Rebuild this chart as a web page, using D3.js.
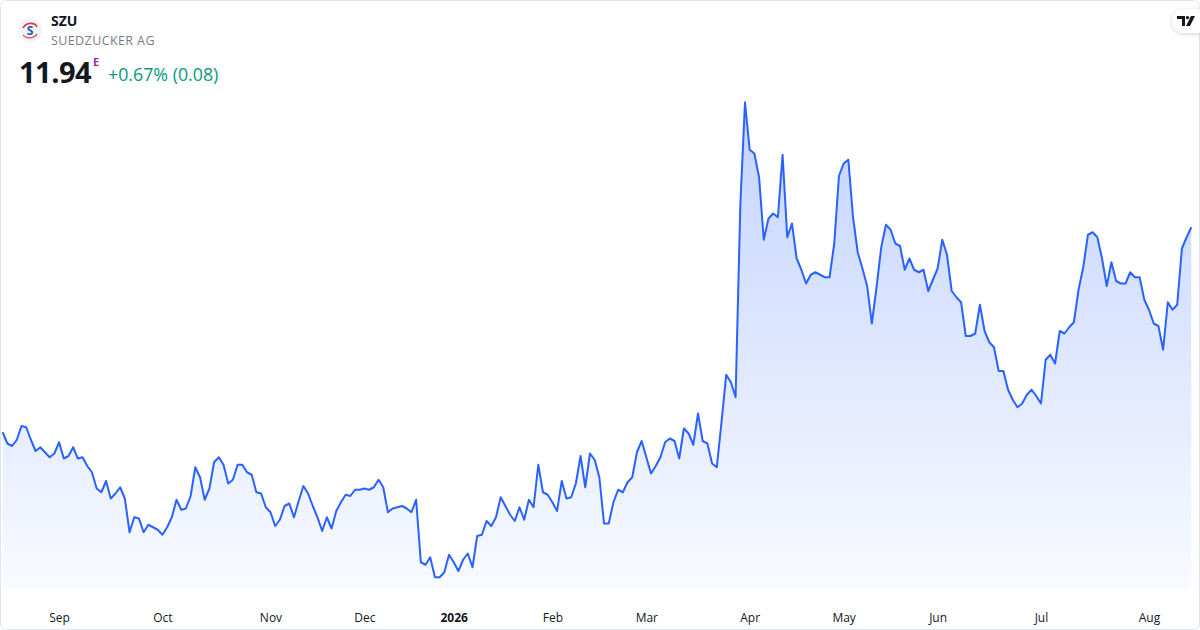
<!DOCTYPE html>
<html>
<head>
<meta charset="utf-8">
<script src="https://cdn.jsdelivr.net/npm/d3@7"></script>
<style>
  html, body { margin: 0; padding: 0; background: #ffffff; }
  body { width: 1200px; height: 630px; overflow: hidden; font-family: "Open Sans", "Noto Sans", sans-serif; }
  .tick text { font-family: "Open Sans", "Noto Sans", sans-serif; }
</style>
</head>
<body>
<div id="chartArea"></div>
<script>
// SZU daily closes, one value per trading day
var prices = [
  10.30, 10.21, 10.19, 10.24, 10.35, 10.34, 10.24, 10.15, 10.18, 10.14,
  10.10, 10.13, 10.22, 10.09, 10.11, 10.18, 10.09, 10.10, 10.03, 9.98,
  9.85, 9.82, 9.91, 9.77, 9.81, 9.86, 9.77, 9.50, 9.62, 9.61,
  9.50, 9.56, 9.54, 9.52, 9.48, 9.54, 9.62, 9.76, 9.68, 9.69,
  9.79, 10.02, 9.94, 9.76, 9.85, 10.06, 10.10, 10.04, 9.89, 9.92,
  10.04, 10.04, 9.98, 9.96, 9.82, 9.81, 9.70, 9.66, 9.55, 9.60,
  9.71, 9.73, 9.62, 9.75, 9.87, 9.81, 9.71, 9.62, 9.51, 9.62,
  9.53, 9.67, 9.74, 9.80, 9.79, 9.84, 9.84, 9.85, 9.84, 9.86,
  9.92, 9.86, 9.66, 9.69, 9.70, 9.71, 9.69, 9.66, 9.76, 9.26,
  9.24, 9.30, 9.14, 9.14, 9.18, 9.32, 9.26, 9.19, 9.28, 9.33,
  9.22, 9.47, 9.48, 9.59, 9.55, 9.62, 9.78, 9.71, 9.64, 9.59,
  9.70, 9.60, 9.76, 9.70, 10.04, 9.82, 9.80, 9.74, 9.67, 9.91,
  9.77, 9.78, 9.89, 10.11, 9.86, 10.13, 10.08, 9.94, 9.57, 9.57,
  9.74, 9.84, 9.82, 9.90, 9.94, 10.14, 10.23, 10.10, 9.97, 10.03,
  10.10, 10.22, 10.25, 10.23, 10.09, 10.33, 10.29, 10.20, 10.45, 10.23,
  10.21, 10.05, 10.02, 10.38, 10.76, 10.70, 10.58, 12.11, 12.94, 12.56,
  12.53, 12.34, 11.84, 12.01, 12.05, 12.02, 12.52, 11.86, 11.97, 11.69,
  11.60, 11.49, 11.56, 11.58, 11.56, 11.54, 11.54, 11.81, 12.35, 12.45,
  12.48, 12.02, 11.74, 11.61, 11.47, 11.17, 11.46, 11.78, 11.96, 11.92,
  11.81, 11.79, 11.60, 11.69, 11.60, 11.58, 11.60, 11.43, 11.52, 11.61,
  11.84, 11.72, 11.43, 11.38, 11.34, 11.07, 11.07, 11.09, 11.32, 11.11,
  11.02, 10.98, 10.79, 10.79, 10.64, 10.56, 10.50, 10.53, 10.60, 10.64,
  10.59, 10.53, 10.88, 10.92, 10.85, 11.11, 11.09, 11.14, 11.18, 11.44,
  11.62, 11.88, 11.90, 11.86, 11.69, 11.47, 11.66, 11.51, 11.49, 11.49,
  11.58, 11.54, 11.54, 11.36, 11.28, 11.17, 11.15, 10.96, 11.34, 11.28,
  11.32, 11.77, 11.86, 11.94
];

var firstDay = "2025-08-14";
// exchange holidays inside the period (no trading)
var holidays = ["2025-12-24", "2025-12-25", "2025-12-26", "2025-12-31",
                "2026-01-01", "2026-04-03", "2026-04-06", "2026-05-01"];

var ticker = "SZU";
var company = "SUEDZUCKER AG";
var lastPrice = "11.94";
var changeText = "+0.67% (0.08)";

var width = 1200, height = 630;

var fmtDay = d3.timeFormat("%Y-%m-%d");
var parseDay = d3.timeParse("%Y-%m-%d");

// build the trading calendar, one date per price
var dates = [];
var d = parseDay(firstDay);
while (dates.length < prices.length) {
    var wd = d.getDay();
    if (wd != 0 && wd != 6 && holidays.indexOf(fmtDay(d)) == -1) {
        dates.push(new Date(d));
    }
    d = d3.timeDay.offset(d, 1);
}
var data = dates.map(function (day, i) { return {date: day, key: fmtDay(day), value: prices[i]}; });

// first trading day of every month after the first one
var monthTicks = [];
data.forEach(function (p, i) {
    if (i > 0 && p.date.getMonth() != data[i - 1].date.getMonth()) monthTicks.push(p.key);
});

var svg = d3.select("#chartArea").append("svg")
    .attr("width", width)
    .attr("height", height);

var defs = svg.append("defs");

var grad = defs.append("linearGradient")
    .attr("id", "areaFill")
    .attr("gradientUnits", "userSpaceOnUse")
    .attr("x1", 0).attr("x2", 0)
    .attr("y1", 100).attr("y2", 588);
grad.append("stop").attr("offset", "0%").attr("stop-color", "#2962ff").attr("stop-opacity", 0.28);
grad.append("stop").attr("offset", "100%").attr("stop-color", "#2962ff").attr("stop-opacity", 0.03);

var shadow = defs.append("filter").attr("id", "tvShadow")
    .attr("x", "-50%").attr("y", "-50%").attr("width", "200%").attr("height", "200%");
shadow.append("feDropShadow")
    .attr("dx", 0).attr("dy", 1).attr("stdDeviation", 2)
    .attr("flood-color", "#000000").attr("flood-opacity", 0.18);

// card outline
svg.append("rect")
    .attr("x", 0.5).attr("y", 0.5)
    .attr("width", width - 1).attr("height", height - 1)
    .attr("rx", 6)
    .attr("fill", "#ffffff")
    .attr("stroke", "#e0e3eb");

var x = d3.scalePoint()
    .domain(data.map(function (p) { return p.key; }))
    .range([2.7, 1191.3]);

var y = d3.scaleLinear()
    .domain([9, 13])
    .range([594.75, 94.75]);

var plotBottom = 588;

var area = d3.area()
    .x(function (p) { return x(p.key); })
    .y0(plotBottom)
    .y1(function (p) { return y(p.value); });

var line = d3.line()
    .x(function (p) { return x(p.key); })
    .y(function (p) { return y(p.value); });

svg.append("path")
    .datum(data)
    .attr("d", area)
    .attr("fill", "url(#areaFill)");

svg.append("path")
    .datum(data)
    .attr("d", line)
    .attr("fill", "none")
    .attr("stroke", "#2962ff")
    .attr("stroke-width", 2)
    .attr("stroke-linejoin", "round");

// month axis
var xAxis = d3.axisBottom(x)
    .tickValues(monthTicks)
    .tickSize(0)
    .tickPadding(0)
    .tickFormat(function (k) {
        var dt = parseDay(k);
        return dt.getMonth() == 0 ? d3.timeFormat("%Y")(dt) : d3.timeFormat("%b")(dt);
    });

var axisG = svg.append("g")
    .attr("transform", "translate(0,613)")
    .call(xAxis);
axisG.select(".domain").remove();
axisG.selectAll("text")
    .attr("fill", "#131722")
    .attr("font-size", 12)
    .attr("font-weight", function (k) { return parseDay(k).getMonth() == 0 ? 700 : 400; });

// header
var logo = svg.append("g").attr("transform", "translate(30,30)");
logo.append("circle").attr("r", 12).attr("fill", "#f0f3fa");
logo.append("path")
    .attr("d", "M-7,-2 C-4,-8 5,-8 7,-3")
    .attr("fill", "none").attr("stroke", "#e53935").attr("stroke-width", 1.6);
logo.append("text")
    .attr("x", 0).attr("y", 5)
    .attr("text-anchor", "middle")
    .attr("font-size", 12).attr("font-weight", 700)
    .attr("fill", "#1e5bb8")
    .text("S");
logo.append("path")
    .attr("d", "M-7,5 C-4,9 4,9 7,4")
    .attr("fill", "none").attr("stroke", "#e53935").attr("stroke-width", 1.2);

svg.append("text")
    .attr("x", 51).attr("y", 26)
    .attr("font-size", 14).attr("font-weight", 700)
    .attr("fill", "#131722")
    .text(ticker);

svg.append("text")
    .attr("x", 51).attr("y", 45)
    .attr("font-size", 12.5)
    .attr("letter-spacing", 0.4)
    .attr("fill", "#787b86")
    .text(company);

svg.append("text")
    .attr("x", 19).attr("y", 83)
    .attr("font-size", 29).attr("font-weight", 700)
    .attr("letter-spacing", -0.5)
    .attr("fill", "#131722")
    .text(lastPrice);

svg.append("text")
    .attr("x", 93).attr("y", 66)
    .attr("font-size", 11).attr("font-weight", 700)
    .attr("fill", "#9c27b0")
    .text("E");

svg.append("text")
    .attr("x", 108).attr("y", 81)
    .attr("font-size", 17.8)
    .attr("fill", "#089981")
    .text(changeText);

// TradingView badge, top right
var badge = svg.append("g").attr("transform", "translate(1172,9)");
badge.append("rect")
    .attr("width", 40).attr("height", 24).attr("rx", 12)
    .attr("fill", "#ffffff")
    .attr("filter", "url(#tvShadow)");
badge.append("path")
    .attr("d", "M5,7 H13 V17 H10 V10 H5 Z")
    .attr("fill", "#131722");
badge.append("circle").attr("cx", 15.5).attr("cy", 8.6).attr("r", 1.7).attr("fill", "#131722");
badge.append("path")
    .attr("d", "M19,7 H23 L18,17 H14 Z")
    .attr("fill", "#131722");
</script>
</body>
</html>
